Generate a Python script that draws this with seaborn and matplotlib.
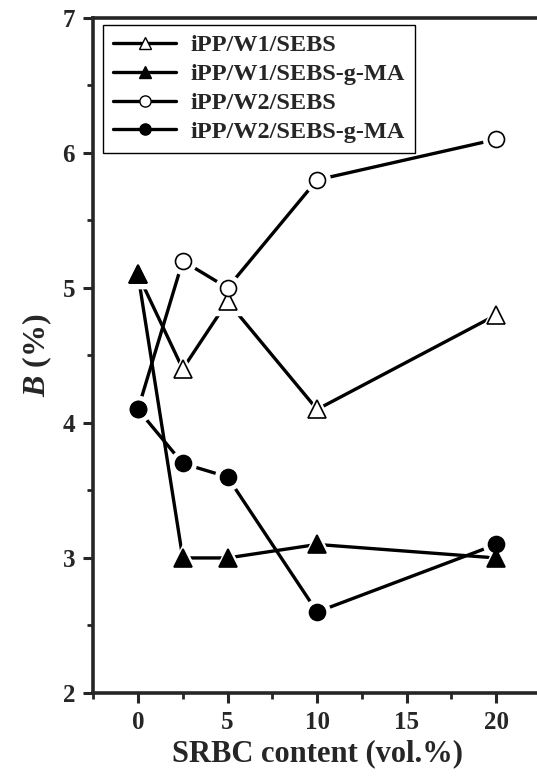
import pandas as pd
import seaborn as sns
import matplotlib.pyplot as plt
from matplotlib.ticker import MultipleLocator

# data
srbc = [0, 2.5, 5, 10, 20]
w1_sebs = [5.1, 4.4, 4.9, 4.1, 4.8]
w1_sebs_gma = [5.1, 3.0, 3.0, 3.1, 3.0]
w2_sebs = [4.1, 5.2, 5.0, 5.8, 6.1]
w2_sebs_gma = [4.1, 3.7, 3.6, 2.6, 3.1]

labels = ['iPP/W1/SEBS', 'iPP/W1/SEBS-g-MA', 'iPP/W2/SEBS', 'iPP/W2/SEBS-g-MA']
series = [w1_sebs, w1_sebs_gma, w2_sebs, w2_sebs_gma]
markers = ['^', '^', 'o', 'o']
faces = ['white', 'black', 'white', 'black']
sizes = [12.5, 12.5, 11.5, 11.5]

sns.set_style('ticks')
plt.rcParams['font.family'] = ['Liberation Serif', 'DejaVu Serif']
plt.rcParams['font.weight'] = 'bold'
plt.rcParams['mathtext.fontset'] = 'custom'
plt.rcParams['mathtext.it'] = 'Liberation Serif:italic:bold'
plt.rcParams['mathtext.rm'] = 'Liberation Serif:bold'

fig = plt.figure(figsize=(5.37, 7.76), dpi=100)
ax = fig.add_axes([0.1735, 0.107, 0.834, 0.870])

for i, (lab, vals) in enumerate(zip(labels, series)):
    df = pd.DataFrame({'x': srbc, 'y': vals})
    sns.lineplot(data=df, x='x', y='y', ax=ax, color='black', lw=2.4,
                 zorder=2, legend=False)
    # white halo so the line stops short of the marker
    ax.plot(df['x'], df['y'], ls='none', marker=markers[i], ms=sizes[i] + 7,
            mfc='white', mec='white', zorder=3)
for i, (lab, vals) in enumerate(zip(labels, series)):
    ax.plot(srbc, vals, ls='none', marker=markers[i], ms=sizes[i],
            mfc=faces[i], mec='black', mew=1.2, zorder=4 + i * 0.1)

# legend handles
handles = []
for i, lab in enumerate(labels):
    h, = ax.plot([], [], color='black', lw=2.4, marker=markers[i],
                 ms=sizes[i] * 0.7, mfc=faces[i], mec='black', mew=1.0,
                 label=lab)
    handles.append(h)
leg = ax.legend(handles=handles, loc='upper left', bbox_to_anchor=(0.012, 0.997),
                frameon=True, fancybox=False, edgecolor='black', framealpha=1,
                prop={'family': 'Liberation Serif', 'weight': 'bold', 'size': 17.5},
                handlelength=2.6, handletextpad=0.6, labelspacing=0.28,
                borderpad=0.4, borderaxespad=0.2)
leg.get_frame().set_linewidth(1.0)

ax.set_xlim(-2.5, 22.5)
ax.set_ylim(2, 7)
ax.xaxis.set_major_locator(MultipleLocator(5))
ax.xaxis.set_minor_locator(MultipleLocator(2.5))
ax.yaxis.set_major_locator(MultipleLocator(1))
ax.yaxis.set_minor_locator(MultipleLocator(0.5))
ax.tick_params(which='major', direction='out', length=7, width=2.2,
               labelsize=18, pad=6)
ax.tick_params(which='minor', direction='out', length=4, width=2.0)
ax.tick_params(axis='y', right=False)
ax.tick_params(axis='x', top=False)
for s in ax.spines.values():
    s.set_linewidth(2.6)
    s.set_visible(True)

ax.set_xlabel('SRBC content (vol.%)', fontsize=22, fontweight='bold', labelpad=4)
ax.set_ylabel(r'$B$ (%)', fontsize=23, fontweight='bold', labelpad=6)

fig.savefig('out.png', dpi=100)
